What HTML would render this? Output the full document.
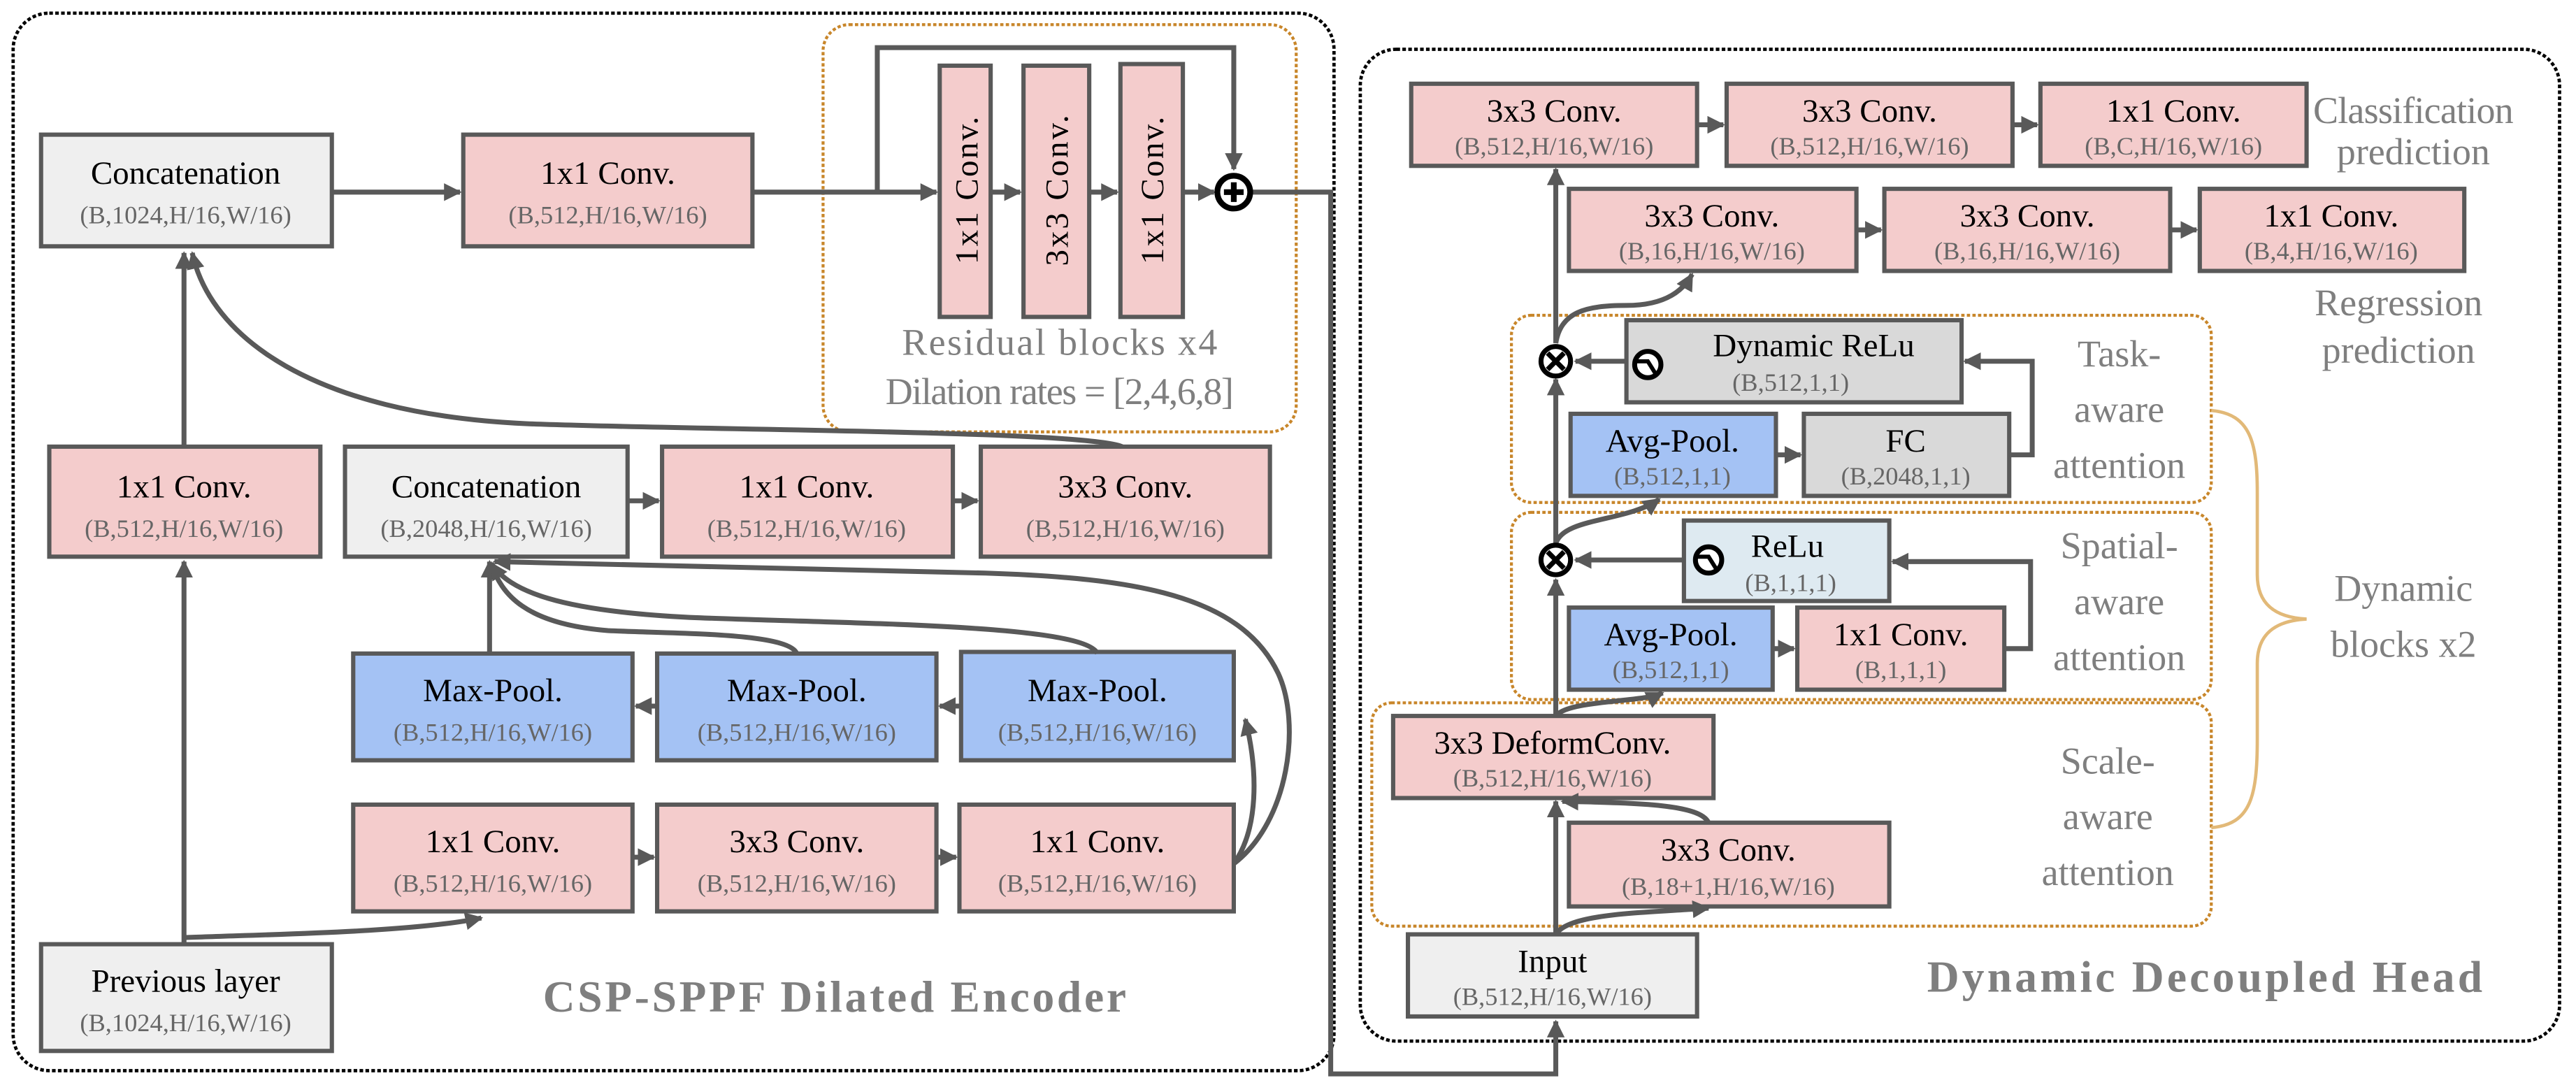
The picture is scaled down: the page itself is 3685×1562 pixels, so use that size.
<!DOCTYPE html>
<html><head><meta charset="utf-8"><style>
html,body{margin:0;padding:0;background:#fff}
svg{display:block;font-family:"Liberation Serif","DejaVu Serif",serif}
svg text{font-family:"Liberation Serif","DejaVu Serif",serif}
.m{font-size:20px;fill:#000;text-anchor:middle}
.s{font-size:15.5px;fill:#666;text-anchor:middle}
.g{font-size:23px;fill:#7f7f7f;text-anchor:middle}
.t{font-size:27px;fill:#7f7f7f;font-weight:bold;text-anchor:middle}
.b{stroke:#595959;stroke-width:2.6}
.c{fill:none;stroke:#595959;stroke-width:3}
.o{fill:none;stroke:#c8862a;stroke-width:1.8;stroke-dasharray:2 1.4}
.k{fill:none;stroke:#000;stroke-width:2;stroke-dasharray:2.2 1.4}
</style></head><body>
<svg width="3685" height="1562" viewBox="0 0 1568 665" preserveAspectRatio="none" xmlns="http://www.w3.org/2000/svg" font-family="Liberation Serif, DejaVu Serif, serif">
<defs>
<marker id="a" viewBox="0 0 10 10" refX="9" refY="5" markerWidth="3.6" markerHeight="3.6" orient="auto" markerUnits="strokeWidth"><path d="M0,0 L10,5 L0,10 z" fill="#595959"/></marker>
</defs>
<rect class="k" x="8" y="8" width="804" height="644" rx="22"/>
<rect class="k" x="828" y="30" width="730" height="604" rx="22"/>
<rect class="o" x="501" y="15" width="288" height="248" rx="16"/>
<rect class="o" x="920" y="192" width="426" height="114" rx="12"/>
<rect class="o" x="920" y="312" width="426" height="114" rx="12"/>
<rect class="o" x="835" y="428" width="511" height="136" rx="12"/>

<rect class="b" x="25" y="82" width="177" height="68" fill="#efefef"/>
<text class="m" x="113" y="112">Concatenation</text><text class="s" x="113" y="136">(B,1024,H/16,W/16)</text>
<rect class="b" x="282" y="82" width="176" height="68" fill="#f4cccc"/>
<text class="m" x="370" y="112">1x1 Conv.</text><text class="s" x="370" y="136">(B,512,H/16,W/16)</text>

<rect class="b" x="572" y="40" width="31" height="153" fill="#f4cccc"/>
<rect class="b" x="623" y="40" width="40" height="153" fill="#f4cccc"/>
<rect class="b" x="682" y="39" width="38" height="154" fill="#f4cccc"/>
<text class="m" transform="translate(595,116) rotate(-90)" textLength="90">1x1 Conv.</text>
<text class="m" transform="translate(650,116) rotate(-90)" textLength="92">3x3 Conv.</text>
<text class="m" transform="translate(708,116) rotate(-90)" textLength="90">1x1 Conv.</text>
<text class="g" x="645" y="216" textLength="192">Residual blocks x4</text>
<text class="g" x="645" y="246" textLength="212">Dilation rates = [2,4,6,8]</text>

<rect class="b" x="30" y="272" width="165" height="67" fill="#f4cccc"/>
<text class="m" x="112" y="303">1x1 Conv.</text><text class="s" x="112" y="327">(B,512,H/16,W/16)</text>
<rect class="b" x="210" y="272" width="172" height="67" fill="#efefef"/>
<text class="m" x="296" y="303">Concatenation</text><text class="s" x="296" y="327">(B,2048,H/16,W/16)</text>
<rect class="b" x="403" y="272" width="177" height="67" fill="#f4cccc"/>
<text class="m" x="491" y="303">1x1 Conv.</text><text class="s" x="491" y="327">(B,512,H/16,W/16)</text>
<rect class="b" x="597" y="272" width="176" height="67" fill="#f4cccc"/>
<text class="m" x="685" y="303">3x3 Conv.</text><text class="s" x="685" y="327">(B,512,H/16,W/16)</text>

<rect class="b" x="215" y="398" width="170" height="65" fill="#a4c2f4"/>
<text class="m" x="300" y="427">Max-Pool.</text><text class="s" x="300" y="451">(B,512,H/16,W/16)</text>
<rect class="b" x="400" y="398" width="170" height="65" fill="#a4c2f4"/>
<text class="m" x="485" y="427">Max-Pool.</text><text class="s" x="485" y="451">(B,512,H/16,W/16)</text>
<rect class="b" x="585" y="397" width="166" height="66" fill="#a4c2f4"/>
<text class="m" x="668" y="427">Max-Pool.</text><text class="s" x="668" y="451">(B,512,H/16,W/16)</text>

<rect class="b" x="215" y="490" width="170" height="65" fill="#f4cccc"/>
<text class="m" x="300" y="519">1x1 Conv.</text><text class="s" x="300" y="543">(B,512,H/16,W/16)</text>
<rect class="b" x="400" y="490" width="170" height="65" fill="#f4cccc"/>
<text class="m" x="485" y="519">3x3 Conv.</text><text class="s" x="485" y="543">(B,512,H/16,W/16)</text>
<rect class="b" x="584" y="490" width="167" height="65" fill="#f4cccc"/>
<text class="m" x="668" y="519">1x1 Conv.</text><text class="s" x="668" y="543">(B,512,H/16,W/16)</text>

<rect class="b" x="25" y="575" width="177" height="65" fill="#efefef"/>
<text class="m" x="113" y="604">Previous layer</text><text class="s" x="113" y="628">(B,1024,H/16,W/16)</text>
<text class="t" x="508" y="616" textLength="355">CSP-SPPF Dilated Encoder</text>

<path class="c" d="M202,117 L280,117" marker-end="url(#a)"/>
<path class="c" d="M458,117 L570,117" marker-end="url(#a)"/>
<path class="c" d="M534,117 L534,29 L751,29 L751,103" marker-end="url(#a)"/>
<path class="c" d="M603,117 L621,117" marker-end="url(#a)"/>
<path class="c" d="M663,117 L680,117" marker-end="url(#a)"/>
<path class="c" d="M720,117 L739,117" marker-end="url(#a)"/>
<path class="c" d="M762,117 L810,117 L810,654 L947,654 L947,622" marker-end="url(#a)"/>
<circle cx="751" cy="117" r="10" fill="#fff" stroke="#000" stroke-width="3.5"/>
<path d="M745,117 H757 M751,111 V123" stroke="#000" stroke-width="3.5"/>
<path class="c" d="M112,575 L112,342" marker-end="url(#a)"/>
<path class="c" d="M112,272 L112,154" marker-end="url(#a)"/>
<path class="c" d="M683,272 C660,262 420,262 320,258 C190,252 128,205 117,154" marker-end="url(#a)"/>
<path class="c" d="M382,305 L401,305" marker-end="url(#a)"/>
<path class="c" d="M580,305 L595,305" marker-end="url(#a)"/>
<path class="c" d="M585,430 L572,430" marker-end="url(#a)"/>
<path class="c" d="M400,430 L387,430" marker-end="url(#a)"/>
<path class="c" d="M298,398 L298,342" marker-end="url(#a)"/>
<path class="c" d="M485,398 C480,385 410,386 370,384 C320,380 305,362 299,343" marker-end="url(#a)"/>
<path class="c" d="M668,398 C660,380 520,380 420,376 C340,372 310,360 299,343" marker-end="url(#a)"/>
<path class="c" d="M751,526 C785,500 792,440 778,410 C755,362 690,352 600,349 L301,342" marker-end="url(#a)"/>
<path class="c" d="M751,526 C766,505 766,470 758,438" marker-end="url(#a)"/>
<path class="c" d="M385,522 L398,522" marker-end="url(#a)"/>
<path class="c" d="M570,522 L582,522" marker-end="url(#a)"/>
<path class="c" d="M112,571 C160,569 250,568 293,559" marker-end="url(#a)"/>

<rect class="b" x="859" y="51" width="174" height="50" fill="#f4cccc"/>
<text class="m" x="946" y="74">3x3 Conv.</text><text class="s" x="946" y="94">(B,512,H/16,W/16)</text>
<rect class="b" x="1051" y="51" width="174" height="50" fill="#f4cccc"/>
<text class="m" x="1138" y="74">3x3 Conv.</text><text class="s" x="1138" y="94">(B,512,H/16,W/16)</text>
<rect class="b" x="1242" y="51" width="162" height="50" fill="#f4cccc"/>
<text class="m" x="1323" y="74">1x1 Conv.</text><text class="s" x="1323" y="94">(B,C,H/16,W/16)</text>
<text class="g" x="1469" y="75" textLength="122">Classification</text>
<text class="g" x="1469" y="100">prediction</text>

<rect class="b" x="955" y="115" width="175" height="50" fill="#f4cccc"/>
<text class="m" x="1042" y="138">3x3 Conv.</text><text class="s" x="1042" y="158">(B,16,H/16,W/16)</text>
<rect class="b" x="1147" y="115" width="174" height="50" fill="#f4cccc"/>
<text class="m" x="1234" y="138">3x3 Conv.</text><text class="s" x="1234" y="158">(B,16,H/16,W/16)</text>
<rect class="b" x="1339" y="115" width="161" height="50" fill="#f4cccc"/>
<text class="m" x="1419" y="138">1x1 Conv.</text><text class="s" x="1419" y="158">(B,4,H/16,W/16)</text>
<text class="g" x="1460" y="192">Regression</text>
<text class="g" x="1460" y="221">prediction</text>

<rect class="b" x="990" y="195" width="204" height="50" fill="#d9d9d9"/>
<text class="m" x="1104" y="217">Dynamic ReLu</text><text class="s" x="1090" y="238">(B,512,1,1)</text>
<rect class="b" x="956" y="252" width="125" height="50" fill="#a4c2f4"/>
<text class="m" x="1018" y="275">Avg-Pool.</text><text class="s" x="1018" y="295">(B,512,1,1)</text>
<rect class="b" x="1098" y="252" width="125" height="50" fill="#d9d9d9"/>
<text class="m" x="1160" y="275">FC</text><text class="s" x="1160" y="295">(B,2048,1,1)</text>
<text class="g" x="1290" y="223">Task-</text><text class="g" x="1290" y="257">aware</text><text class="g" x="1290" y="291">attention</text>

<rect class="b" x="1025" y="317" width="125" height="49" fill="#deeaf1"/>
<text class="m" x="1088" y="339">ReLu</text><text class="s" x="1090" y="360">(B,1,1,1)</text>
<rect class="b" x="955" y="370" width="124" height="50" fill="#a4c2f4"/>
<text class="m" x="1017" y="393">Avg-Pool.</text><text class="s" x="1017" y="413">(B,512,1,1)</text>
<rect class="b" x="1094" y="370" width="126" height="50" fill="#f4cccc"/>
<text class="m" x="1157" y="393">1x1 Conv.</text><text class="s" x="1157" y="413">(B,1,1,1)</text>
<text class="g" x="1290" y="340">Spatial-</text><text class="g" x="1290" y="374">aware</text><text class="g" x="1290" y="408">attention</text>

<rect class="b" x="848" y="436" width="195" height="50" fill="#f4cccc"/>
<text class="m" x="945" y="459">3x3 DeformConv.</text><text class="s" x="945" y="479">(B,512,H/16,W/16)</text>
<rect class="b" x="955" y="501" width="195" height="51" fill="#f4cccc"/>
<text class="m" x="1052" y="524">3x3 Conv.</text><text class="s" x="1052" y="545">(B,18+1,H/16,W/16)</text>
<text class="g" x="1283" y="471">Scale-</text><text class="g" x="1283" y="505">aware</text><text class="g" x="1283" y="539">attention</text>

<rect class="b" x="857" y="569" width="176" height="50" fill="#efefef"/>
<text class="m" x="945" y="592">Input</text><text class="s" x="945" y="612">(B,512,H/16,W/16)</text>
<text class="t" x="1342" y="604" textLength="338">Dynamic Decoupled Head</text>

<text class="g" x="1463" y="366">Dynamic</text><text class="g" x="1463" y="400">blocks x2</text>
<path d="M1346,250 C1370,252 1374,270 1374,300 L1374,350 C1374,368 1385,376 1404,377 C1385,378 1374,386 1374,404 L1374,450 C1374,485 1370,502 1346,504" fill="none" stroke="#e2b978" stroke-width="2"/>

<path class="c" d="M947,569 L947,488" marker-end="url(#a)"/>
<path class="c" d="M947,436 L947,353" marker-end="url(#a)"/>
<path class="c" d="M947,331 L947,231" marker-end="url(#a)"/>
<path class="c" d="M947,209 L947,103" marker-end="url(#a)"/>
<path class="c" d="M1033,76 L1049,76" marker-end="url(#a)"/>
<path class="c" d="M1225,76 L1240,76" marker-end="url(#a)"/>
<path class="c" d="M1130,140 L1145,140" marker-end="url(#a)"/>
<path class="c" d="M1321,140 L1337,140" marker-end="url(#a)"/>
<path class="c" d="M947,569 C955,556 1000,556 1040,553" marker-end="url(#a)"/>
<path class="c" d="M1040,501 C1035,490 1000,489 951,488" marker-end="url(#a)"/>
<path class="c" d="M947,436 C955,426 1000,428 1012,422" marker-end="url(#a)"/>
<path class="c" d="M1079,395 L1092,395" marker-end="url(#a)"/>
<path class="c" d="M1220,395 L1236,395 L1236,342 L1152,342" marker-end="url(#a)"/>
<path class="c" d="M1025,341 L959,341" marker-end="url(#a)"/>
<path class="c" d="M947,331 C952,315 990,318 1010,304" marker-end="url(#a)"/>
<path class="c" d="M1081,277 L1096,277" marker-end="url(#a)"/>
<path class="c" d="M1223,277 L1237,277 L1237,220 L1196,220" marker-end="url(#a)"/>
<path class="c" d="M990,220 L959,220" marker-end="url(#a)"/>
<path class="c" d="M947,209 C950,190 965,186 990,186 C1015,186 1025,176 1030,167" marker-end="url(#a)"/>
<g stroke="#000" stroke-width="3" fill="#fff">
<circle cx="947" cy="220" r="9"/><circle cx="947" cy="341" r="9"/>
</g>
<path d="M942,215 L952,225 M952,215 L942,225 M942,336 L952,346 M952,336 L942,346" stroke="#000" stroke-width="3"/>
<g fill="#fff" stroke="#000" stroke-width="3">
<circle cx="1003" cy="222" r="8"/><circle cx="1040" cy="341" r="8"/>
</g>
<path d="M996,220 L1003,220 L1008,228 M1033,339 L1040,339 L1045,347" fill="none" stroke="#000" stroke-width="2.5"/>
</svg>
</body></html>
